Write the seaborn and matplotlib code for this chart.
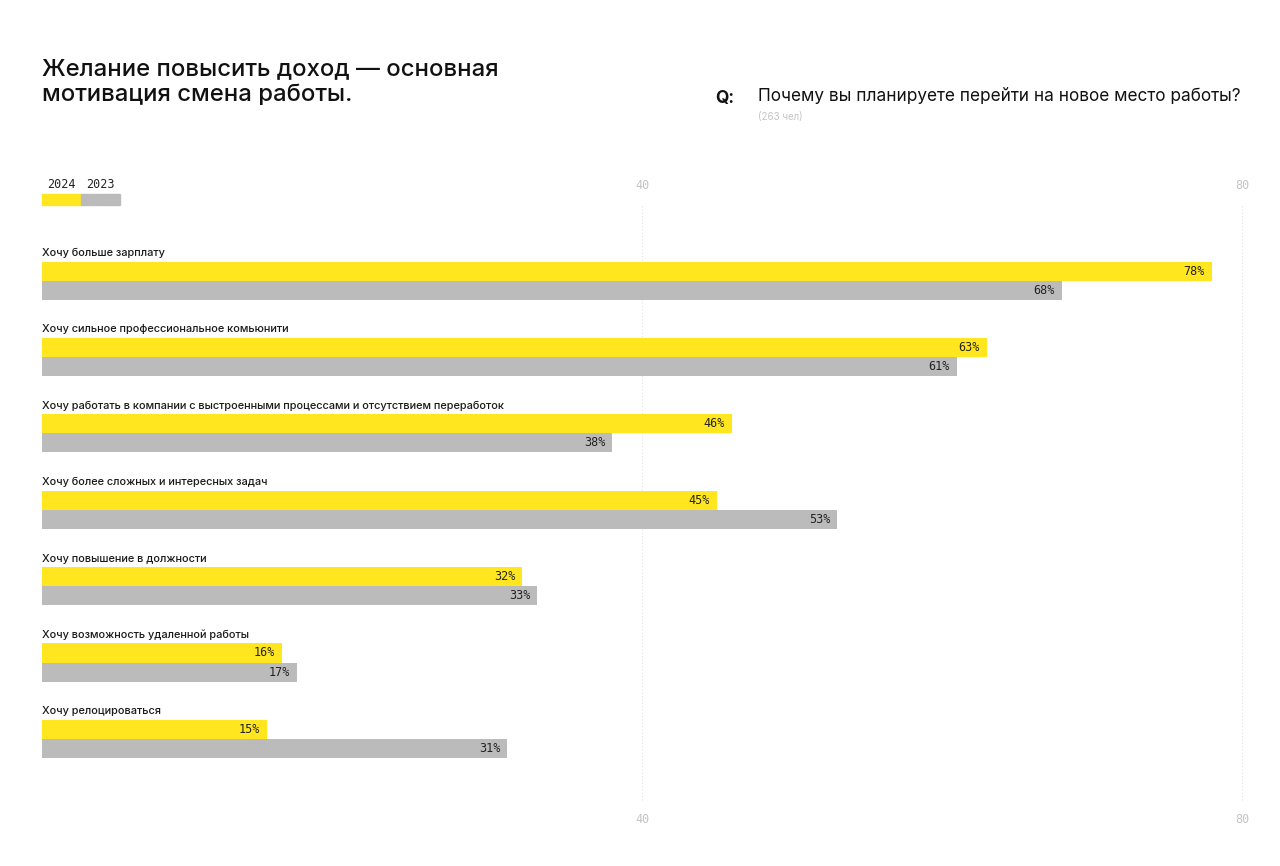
import pandas as pd
import seaborn as sns
import matplotlib.pyplot as plt
from matplotlib.patches import Rectangle

# данные опроса
reasons = [
    'Хочу больше зарплату',
    'Хочу сильное профессиональное комьюнити',
    'Хочу работать в компании с выстроенными процессами и отсутствием переработок',
    'Хочу более сложных и интересных задач',
    'Хочу повышение в должности',
    'Хочу возможность удаленной работы',
    'Хочу релоцироваться',
]
share_2024 = [78, 63, 46, 45, 32, 16, 15]
share_2023 = [68, 61, 38, 53, 33, 17, 31]
years = ['2024', '2023']
ticks = [40, 80]

df = pd.DataFrame({
    'reason': reasons * 2,
    'value': share_2024 + share_2023,
    'year': [years[0]] * len(reasons) + [years[1]] * len(reasons),
})

YELLOW = '#FFE61E'
GRAY = '#BBBBBB'
MONO = ['DejaVu Sans Mono']

sns.set_theme(style='white')
plt.rcParams['font.family'] = ['Inter', 'DejaVu Sans']

fig = plt.figure(figsize=(12.8, 8.66), dpi=100)
ax = fig.add_axes([42 / 1280, 1 - 800 / 866, 1200 / 1280, 595 / 866])

sns.barplot(data=df, x='value', y='reason', hue='year', orient='h',
            palette=[YELLOW, GRAY], width=0.5, linewidth=0, saturation=1,
            legend=False, ax=ax)

ax.set_xlim(0, 80)
ax.set_ylim(6.8, -0.99)
ax.set_xticks(ticks)
ax.set_xticklabels([str(t) for t in ticks], family=MONO, fontsize=8.5, color='#C4C4C4')
ax.tick_params(axis='x', labeltop=True, labelbottom=True, top=False, bottom=False, pad=3.5)
ax.set_yticks([])
ax.set_xlabel('')
ax.set_ylabel('')
for s in ax.spines.values():
    s.set_visible(False)
for t in ticks:
    ax.axvline(t, color='#E3E3E3', linestyle=(0, (1, 2)), linewidth=0.8, zorder=0, clip_on=False)

# подписи категорий над столбцами
for i, r in enumerate(reasons):
    ax.text(0, i - 0.36, r, ha='left', va='center', fontsize=7.9, fontweight='medium',
            color='#1a1a1a')

# значения внутри столбцов
for cont in ax.containers:
    for p in cont:
        ax.annotate(f'{p.get_width():.0f}%', (p.get_width(), p.get_y() + p.get_height() / 2),
                    xytext=(-5, 0), textcoords='offset points', ha='right', va='center',
                    family=MONO, fontsize=8.5, color='#222222')

# заголовок и вопрос
fig.text(42 / 1280, 1 - 82 / 866, 'Желание повысить доход — основная\nмотивация смена работы.',
         ha='left', va='center', fontsize=17.2, fontweight='medium', color='#111111',
         linespacing=1.27)
fig.text(715 / 1280, 1 - 98 / 866, 'Q:', ha='left', va='center', fontsize=12.5,
         fontweight='bold', color='#111111')
fig.text(758 / 1280, 1 - 97 / 866, 'Почему вы планируете перейти на новое место работы?',
         ha='left', va='center', fontsize=12.4, color='#111111')
fig.text(758 / 1280, 1 - 117 / 866, '(263 чел)', ha='left', va='center', fontsize=7,
         color='#C4C4C4')

# легенда
for k, (yr, col) in enumerate(zip(years, [YELLOW, GRAY])):
    x0 = (42 + 39 * k) / 1280
    fig.patches.append(Rectangle((x0, 1 - 205 / 866), 39 / 1280, 11 / 866,
                                 transform=fig.transFigure, color=col, figure=fig))
    fig.text(x0 + 19.5 / 1280, 1 - 185 / 866, yr, ha='center', va='center',
             family=MONO, fontsize=8.5, color='#222222')

plt.savefig('out.png', dpi=100)
